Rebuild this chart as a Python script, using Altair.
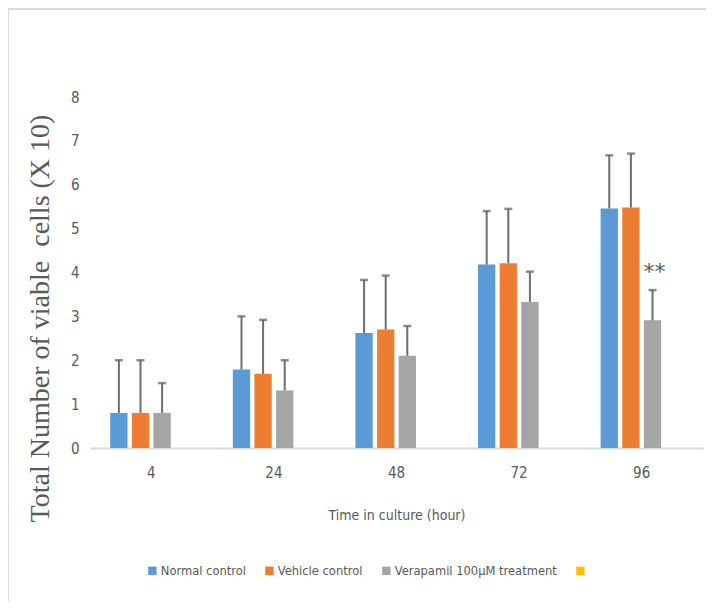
import altair as alt
import pandas as pd

hours = ["4", "24", "48", "72", "96"]
series = ["Normal control", "Vehicle control", "Verapamil 100μM treatment", ""]
colors = ["#5B9BD5", "#ED7D31", "#A5A5A5", "#FFC000"]

normal = [0.80, 1.79, 2.62, 4.18, 5.46]
normal_sd = [1.20, 1.21, 1.21, 1.22, 1.21]
vehicle = [0.80, 1.69, 2.70, 4.21, 5.48]
vehicle_sd = [1.20, 1.23, 1.23, 1.24, 1.23]
verapamil = [0.80, 1.31, 2.10, 3.33, 2.91]
verapamil_sd = [0.68, 0.69, 0.68, 0.69, 0.69]

sig_hour = "96"
sig_label = "**"

rows = []
for name, vals, sds in [(series[0], normal, normal_sd),
                        (series[1], vehicle, vehicle_sd),
                        (series[2], verapamil, verapamil_sd)]:
    for h, v, s in zip(hours, vals, sds):
        rows.append({"hour": h, "series": name, "value": v, "upper": v + s,
                     "sig": sig_label if (name == series[2] and h == sig_hour) else ""})
df = pd.DataFrame(rows)

NARROW = "Liberation Sans Narrow, DejaVu Sans Condensed, Arial Narrow, sans-serif"
TXT = "#595959"

x_enc = alt.X("hour:N", sort=hours,
              scale=alt.Scale(domain=hours, paddingInner=0.33, paddingOuter=0.165),
              axis=alt.Axis(title="Time in culture (hour)", labelAngle=0, ticks=False,
                            domainColor="#D9D9D9", domainWidth=2, labelPadding=17,
                            labelFont=NARROW, labelFontSize=15, labelColor=TXT,
                            titleFont=NARROW, titleFontSize=14, titleColor=TXT,
                            titleFontWeight="normal", titleY=67, titleBaseline="middle"))
xo_enc = alt.XOffset("series:N", scale=alt.Scale(domain=series, paddingInner=0.2, paddingOuter=0))
y_scale = alt.Scale(domain=[0, 8], nice=False)

base = alt.Chart(df)

bars = base.mark_bar().encode(
    x=x_enc,
    xOffset=xo_enc,
    y=alt.Y("value:Q", scale=y_scale,
            axis=alt.Axis(title="Total Number of viable\u00a0 cells (X 10)", values=list(range(0, 9)),
                          grid=False, domain=False, ticks=False, labelPadding=11,
                          labelFont=NARROW, labelFontSize=15, labelColor=TXT,
                          titleFont="Liberation Serif", titleFontSize=28, titleColor=TXT,
                          titleFontWeight="normal", titleAngle=270, titleX=-50, titleY=221,
                          titleAlign="center", titleBaseline="middle")),
    color=alt.Color("series:N", scale=alt.Scale(domain=series, range=colors),
                    legend=alt.Legend(title=None, orient="none", legendX=56, legendY=467,
                                      direction="horizontal", columns=4, symbolType="square",
                                      symbolSize=70, symbolStrokeWidth=0, labelFont=NARROW,
                                      labelFontSize=12.8, labelColor=TXT, columnPadding=17,
                                      labelOffset=2, labelLimit=400)),
)

err = base.mark_rule(color="#6E6E6E", strokeWidth=2).encode(
    x=alt.X("hour:N", sort=hours), xOffset=xo_enc,
    y=alt.Y("value:Q", scale=y_scale), y2="upper:Q")

caps = base.mark_tick(color="#5E5E5E", thickness=2.5, size=8, orient="horizontal").encode(
    x=alt.X("hour:N", sort=hours), xOffset=xo_enc,
    y=alt.Y("upper:Q", scale=y_scale))

sig = base.mark_text(color=TXT, fontSize=22, font="DejaVu Sans", baseline="middle", dy=-18, dx=2).encode(
    x=alt.X("hour:N", sort=hours), xOffset=xo_enc,
    y=alt.Y("upper:Q", scale=y_scale), text="sig:N")

one = pd.DataFrame({"k": [0]})
frame_left = alt.Chart(one).mark_rule(color="#D9D9D9", strokeWidth=2).encode(
    x=alt.value(-82), y=alt.value(-88), y2=alt.value(520))
frame_top = alt.Chart(one).mark_rule(color="#D9D9D9", strokeWidth=2).encode(
    x=alt.value(-82), x2=alt.value(620), y=alt.value(-88))

chart = alt.layer(bars, err, caps, sig, frame_left, frame_top).properties(
    width=613, height=351,
    autosize=alt.AutoSizeParams(type="none"),
    padding={"left": 82, "top": 89, "right": 3, "bottom": 154},
).configure_view(stroke=None)

chart.save("out.html", embed_options={"renderer": "svg", "actions": False})
